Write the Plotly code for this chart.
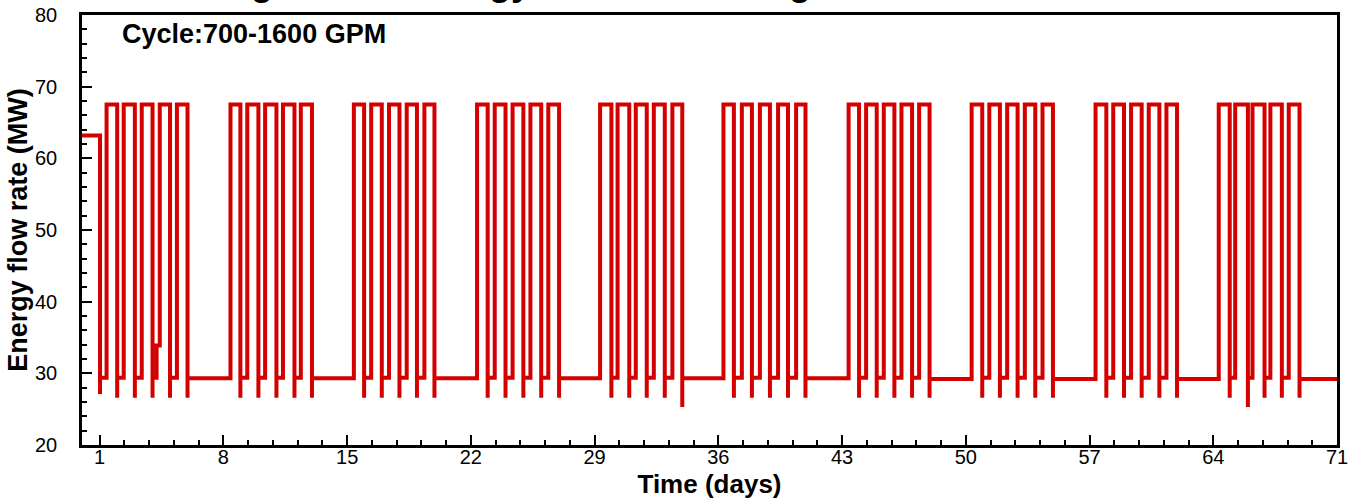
import plotly.graph_objects as go

# ---------------- data ----------------
start_level = 63.2          # MW, initial level before cycling begins
start_drop_day = 1.02       # day when the initial level ends
start_drop_min = 27.1       # undershoot at the first drop

high_level = 67.5           # MW during the 1600 GPM part of the cycle
low_level = 29.4            # MW between pulses inside a week

# pulse rise (to high level) and fall (back to low level), in days
pulse_up = [
    1.39, 2.36, 3.38, 4.40, 5.37,
    8.40, 9.35, 10.36, 11.37, 12.38,
    15.38, 16.36, 17.37, 18.37, 19.37,
    22.35, 23.35, 24.36, 25.37, 26.38,
    29.31, 30.30, 31.33, 32.35, 33.40,
    36.29, 37.33, 38.35, 39.38, 40.40,
    43.37, 44.36, 45.36, 46.36, 47.36,
    50.33, 51.33, 52.34, 53.34, 54.34,
    57.34, 58.34, 59.35, 60.35, 61.35,
    64.31, 65.24, 66.22, 67.23, 68.27,
]
pulse_down = [
    1.99, 2.99, 3.99, 4.98, 5.97,
    8.96, 9.98, 11.00, 12.02, 13.01,
    15.96, 16.96, 17.96, 18.95, 19.94,
    22.95, 23.96, 24.97, 25.98, 26.99,
    29.95, 30.96, 31.95, 32.97, 33.96,
    36.88, 37.90, 38.92, 39.94, 40.93,
    43.96, 44.96, 45.96, 46.96, 47.95,
    50.93, 51.93, 52.93, 53.93, 54.93,
    57.95, 58.95, 59.95, 60.95, 61.95,
    64.93, 65.96, 66.90, 67.88, 68.88,
]
# minimum reached right after each fall (undershoot)
pulse_min = [
    26.6, 26.6, 26.6, 26.6, 26.6,
    26.6, 26.6, 26.6, 26.6, 26.6,
    26.6, 26.6, 26.6, 26.6, 26.6,
    26.6, 26.6, 26.6, 26.6, 26.6,
    26.6, 26.6, 26.6, 26.6, 25.3,
    26.6, 26.6, 26.6, 26.6, 26.6,
    26.6, 26.6, 26.6, 26.6, 26.6,
    26.6, 26.6, 26.6, 26.6, 26.6,
    26.6, 26.6, 26.6, 26.6, 26.6,
    26.6, 25.3, 26.6, 26.6, 26.6,
]
# weekend (700 GPM) level after each weekly block of 5 pulses
weekend_level = [29.3, 29.3, 29.3, 29.3, 29.3, 29.3, 29.2, 29.2, 29.2, 29.2]
end_day = 71.0

# small intermediate step seen before the 4th rise of week 1
kink_day = [4.22]
kink_level = [33.9]

x_ticks = [1, 8, 15, 22, 29, 36, 43, 50, 57, 64, 71]
y_ticks = [20, 30, 40, 50, 60, 70, 80]

# ---------------- build the step trace ----------------
xs = [0.0, start_drop_day, start_drop_day, start_drop_day]
ys = [start_level, start_level, start_drop_min, low_level]
level = low_level
for i, (u, d, m) in enumerate(zip(pulse_up, pulse_down, pulse_min)):
    for kd, kl in zip(kink_day, kink_level):
        if xs[-1] < kd < u:
            xs += [kd, kd]
            ys += [level, kl]
            level = kl
    xs += [u, u, d, d, d]
    ys += [level, high_level, high_level, m]
    week = i // 5
    level = weekend_level[week] if i % 5 == 4 else low_level
    ys += [level]
xs += [end_day]
ys += [level]

fig = go.Figure()
fig.add_trace(go.Scatter(
    x=xs, y=ys, mode="lines",
    line=dict(color="#d40000", width=4),
    showlegend=False, hoverinfo="skip",
))

font_main = "Liberation Sans, Arial, Helvetica, sans-serif"

fig.update_layout(
    width=1359, height=499,
    margin=dict(l=82, r=22, t=15, b=54, autoexpand=False),
    paper_bgcolor="white", plot_bgcolor="white",
    font=dict(family=font_main, color="black", size=20),
    xaxis=dict(
        range=[0, 71], tickvals=x_ticks, ticktext=[str(v) for v in x_ticks],
        ticks="inside", ticklen=10, tickwidth=2, tickcolor="black",
        minor=dict(tick0=1, dtick=1.4, ticks="inside", ticklen=5,
                   tickwidth=1.5, tickcolor="black", showgrid=False),
        showline=True, linewidth=2.5, linecolor="black", mirror=True,
        showgrid=False, zeroline=False,
        tickfont=dict(size=20, family=font_main),
        ticklabelstandoff=-8,
        title=dict(text="<b>Time (days)</b>", font=dict(size=26, family=font_main),
                   standoff=14),
    ),
    yaxis=dict(
        range=[20, 80], tickvals=y_ticks,
        ticks="inside", ticklen=10, tickwidth=2, tickcolor="black",
        minor=dict(dtick=2, ticks="inside", ticklen=5,
                   tickwidth=1.5, tickcolor="black", showgrid=False),
        showline=True, linewidth=2.5, linecolor="black", mirror=True,
        showgrid=False, zeroline=False,
        tickfont=dict(size=20, family=font_main),
        ticklabelstandoff=18,
        title=dict(text="<b>Energy flow rate (MW)</b>", font=dict(size=27, family=font_main),
                   standoff=0),
    ),
    annotations=[
        dict(text="<b>Cycle:700-1600 GPM</b>", xref="paper", yref="paper",
             x=0.0303, y=0.956, xanchor="left", yanchor="middle",
             showarrow=False, font=dict(size=27, family=font_main, color="black")),
        dict(text="<b>Change in the Energy flow rate during</b>", xref="paper", yref="paper",
             x=(159 - 82) / 1255, y=1, xanchor="left", yanchor="bottom", yshift=10,
             showarrow=False, font=dict(size=36, family=font_main, color="black")),
    ],
)

fig.write_html("out.html", config={"displayModeBar": False},
               post_script="document.body.style.margin='0';")
